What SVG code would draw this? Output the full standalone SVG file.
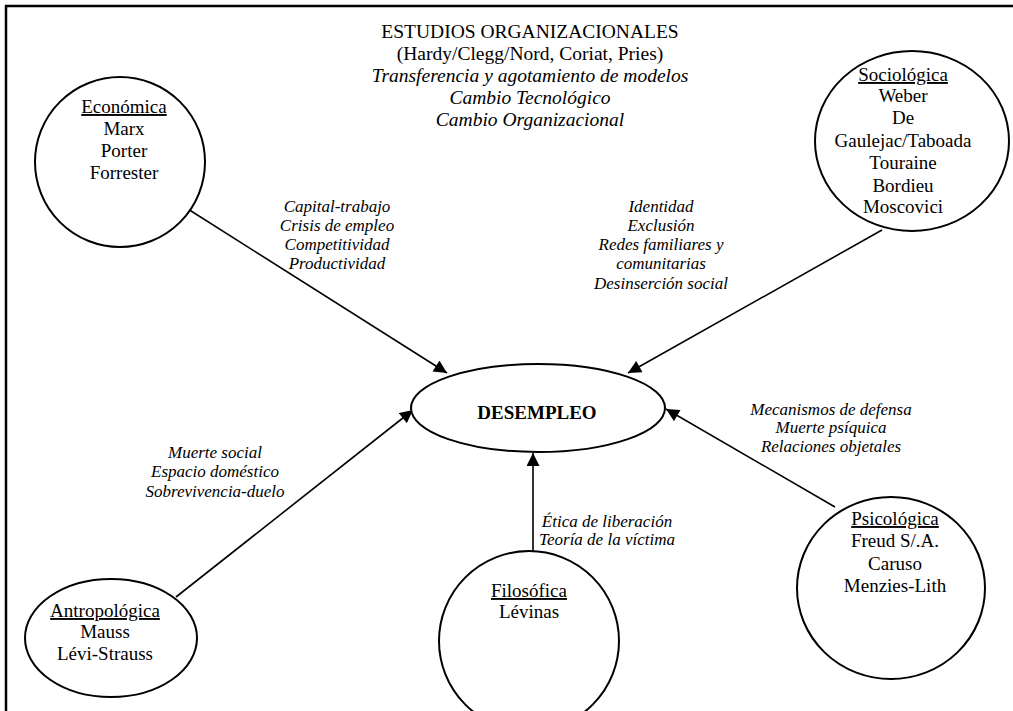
<svg xmlns="http://www.w3.org/2000/svg" width="1013" height="711" viewBox="0 0 1013 711">
  <style>
    .shape { fill: #fff; stroke: #000; stroke-width: 2; }
    .name { font-family: "Liberation Serif", "Times New Roman", serif; font-size: 19px; fill: #000; text-anchor: middle; }
    .title { text-decoration: underline; }
    .label { font-family: "Liberation Serif", "Times New Roman", serif; font-size: 17px; font-style: italic; fill: #000; text-anchor: middle; }
    .head { font-family: "Liberation Serif", "Times New Roman", serif; font-size: 19.5px; fill: #000; text-anchor: middle; }
    .edge { stroke: #000; stroke-width: 1.6; fill: none; marker-end: url(#arrow); }
  </style>
  <defs>
    <marker id="arrow" viewBox="0 0 10 10" refX="10" refY="5" markerWidth="14" markerHeight="13" markerUnits="userSpaceOnUse" orient="auto">
      <path d="M0,0 L10,5 L0,10 z" fill="#000"/>
    </marker>
  </defs>

  <rect width="1013" height="711" fill="#fff"/>
  <!-- page frame: only the top and left edges fall inside the view -->
  <path d="M6,711 V6 H1013" fill="none" stroke="#000" stroke-width="2.5"/>

  <!-- heading -->
  <g id="heading">
    <text class="head" x="530" y="38">ESTUDIOS ORGANIZACIONALES</text>
    <text class="head" x="530" y="60">(Hardy/Clegg/Nord, Coriat, Pries)</text>
    <text class="head" x="530" y="82" font-style="italic">Transferencia y agotamiento de modelos</text>
    <text class="head" x="530" y="104" font-style="italic">Cambio Tecnológico</text>
    <text class="head" x="530" y="126" font-style="italic">Cambio Organizacional</text>
  </g>

  <!-- connectors -->
  <g id="connectors">
    <line class="edge" x1="180" y1="204" x2="447" y2="373"/>
    <line class="edge" x1="882" y1="230" x2="628" y2="373"/>
    <line class="edge" x1="176" y1="597" x2="413" y2="410"/>
    <line class="edge" x1="533" y1="552" x2="533" y2="453"/>
    <line class="edge" x1="835" y1="507" x2="666" y2="409"/>
    <g id="edge-labels">
      <text class="label" x="337" y="212">Capital-trabajo</text>
      <text class="label" x="337" y="231">Crisis de empleo</text>
      <text class="label" x="337" y="250">Competitividad</text>
      <text class="label" x="337" y="269">Productividad</text>

      <text class="label" x="661" y="212">Identidad</text>
      <text class="label" x="661" y="231">Exclusión</text>
      <text class="label" x="661" y="250">Redes familiares y</text>
      <text class="label" x="661" y="269">comunitarias</text>
      <text class="label" x="661" y="289">Desinserción social</text>

      <text class="label" x="215" y="458">Muerte social</text>
      <text class="label" x="215" y="477">Espacio doméstico</text>
      <text class="label" x="215" y="497">Sobrevivencia-duelo</text>

      <text class="label" x="607" y="527">Ética de liberación</text>
      <text class="label" x="607" y="545">Teoría de la víctima</text>

      <text class="label" x="831" y="415">Mecanismos de defensa</text>
      <text class="label" x="831" y="433">Muerte psíquica</text>
      <text class="label" x="831" y="452">Relaciones objetales</text>
    </g>
  </g>

  <!-- central node -->
  <g id="desempleo">
    <ellipse class="shape" cx="538" cy="408" rx="127" ry="44"/>
    <text class="name" x="537" y="419" font-weight="bold">DESEMPLEO</text>
  </g>

  <g id="economica">
    <circle class="shape" cx="120" cy="162" r="85"/>
    <text class="name" x="124" y="113"><tspan class="title">Económica</tspan></text>
    <text class="name" x="124" y="135">Marx</text>
    <text class="name" x="124" y="157">Porter</text>
    <text class="name" x="124" y="179">Forrester</text>
  </g>

  <g id="sociologica">
    <ellipse class="shape" cx="912" cy="141" rx="97" ry="90"/>
    <text class="name" x="903" y="81"><tspan class="title">Sociológica</tspan></text>
    <text class="name" x="903" y="102">Weber</text>
    <text class="name" x="903" y="124">De</text>
    <text class="name" x="903" y="147">Gaulejac/Taboada</text>
    <text class="name" x="903" y="169">Touraine</text>
    <text class="name" x="903" y="192">Bordieu</text>
    <text class="name" x="903" y="213">Moscovici</text>
  </g>

  <g id="antropologica">
    <ellipse class="shape" cx="111" cy="638" rx="86" ry="59"/>
    <text class="name" x="105" y="617"><tspan class="title">Antropológica</tspan></text>
    <text class="name" x="105" y="638">Mauss</text>
    <text class="name" x="105" y="660">Lévi-Strauss</text>
  </g>

  <g id="filosofica">
    <circle class="shape" cx="529" cy="641" r="90"/>
    <text class="name" x="529" y="597"><tspan class="title">Filosófica</tspan></text>
    <text class="name" x="529" y="618">Lévinas</text>
  </g>

  <g id="psicologica">
    <ellipse class="shape" cx="891" cy="588" rx="94" ry="91"/>
    <text class="name" x="895" y="525"><tspan class="title">Psicológica</tspan></text>
    <text class="name" x="895" y="547">Freud S/.A.</text>
    <text class="name" x="895" y="570">Caruso</text>
    <text class="name" x="895" y="592">Menzies-Lith</text>
  </g>
</svg>
